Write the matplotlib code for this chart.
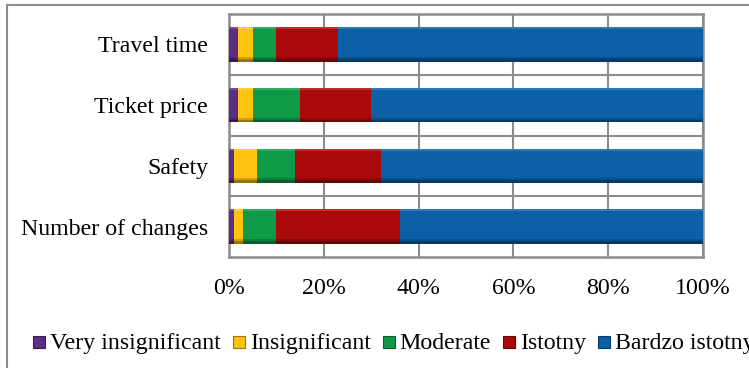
import matplotlib.pyplot as plt
import numpy as np
from matplotlib.colors import to_rgb
from matplotlib.lines import Line2D
from matplotlib.patches import Rectangle

plt.rcParams['font.family'] = ['Liberation Serif', 'DejaVu Serif']

# survey answers, share of respondents in %
categories = ['Number of changes', 'Safety', 'Ticket price', 'Travel time']
very_insignificant = [1, 1, 2, 2]
insignificant = [2, 5, 3, 3]
moderate = [7, 8, 10, 5]
istotny = [26, 18, 15, 13]
bardzo_istotny = [64, 68, 70, 77]

series = [very_insignificant, insignificant, moderate, istotny, bardzo_istotny]
labels = ['Very insignificant', 'Insignificant', 'Moderate', 'Istotny', 'Bardzo istotny']
colors = ['#5b2d85', '#ffc20e', '#0f9a48', '#ab0a0a', '#0b60a8']
xticks = [0, 20, 40, 60, 80, 100]

grey = '#8c8c8c'
fs = 17.2
W, H = 749, 368

def shade(c, f):
    r = np.array(to_rgb(c))
    return tuple(r * f) if f < 1 else tuple(r + (1 - r) * (f - 1))

fig = plt.figure(figsize=(W/100, H/100), dpi=100)
ax = fig.add_axes([229/W, 1 - 257/H, 474/W, 243/H])

y = np.arange(len(categories))
h = 0.57
left = np.zeros(len(categories))
for vals, col in zip(series, colors):
    vals = np.array(vals, dtype=float)
    ax.barh(y, vals, height=h, left=left, color=col, zorder=3)
    # soft darker lower rim and lighter upper rim
    ax.barh(y - h/2 + h*0.04, vals, height=h*0.08, left=left, color=shade(col, 0.6), zorder=4)
    ax.barh(y - h/2 + h*0.11, vals, height=h*0.06, left=left, color=shade(col, 0.82), zorder=4)
    ax.barh(y + h/2 - h*0.03, vals, height=h*0.06, left=left, color=shade(col, 1.15), zorder=4)
    left += vals

ax.set_xlim(0, 100)
ax.set_ylim(-0.5, len(categories) - 0.5)
ax.set_xticks(xticks)
ax.set_xticklabels([f'{v}%' for v in xticks], fontsize=fs)
ax.set_yticks(y)
ax.set_yticklabels(categories, fontsize=fs)
ax.set_yticks(np.arange(len(categories) - 1) + 0.5, minor=True)
ax.tick_params(axis='both', which='both', length=0)
ax.tick_params(axis='x', pad=15)
ax.tick_params(axis='y', pad=15)
ax.grid(axis='x', color=grey, linewidth=1.5, zorder=0)
ax.grid(axis='y', which='minor', color=grey, linewidth=1.5, zorder=0)
for s in ax.spines.values():
    s.set_color(grey)
    s.set_linewidth(1.8)

# legend row laid out by hand so all labels share one baseline
renderer = fig.canvas.get_renderer()
x = 33
box = 12
for lab, col in zip(labels, colors):
    fig.add_artist(Rectangle((x/W, 1 - 348/H), box/W, box/H, transform=fig.transFigure,
                             facecolor=col, edgecolor=shade(col, 0.6), linewidth=0.8))
    t = fig.text((x + box + 5)/W, 1 - 349/H, lab, fontsize=fs, va='baseline', ha='left')
    x = t.get_window_extent(renderer).x1 + 12

# outer chart frame
fig.add_artist(Line2D([7/W, 7/W], [0, 1 - 5/H], transform=fig.transFigure, color=grey, lw=1.5))
fig.add_artist(Line2D([7/W, 1], [1 - 5/H, 1 - 5/H], transform=fig.transFigure, color=grey, lw=1.5))

fig.savefig('out.png', dpi=100)
